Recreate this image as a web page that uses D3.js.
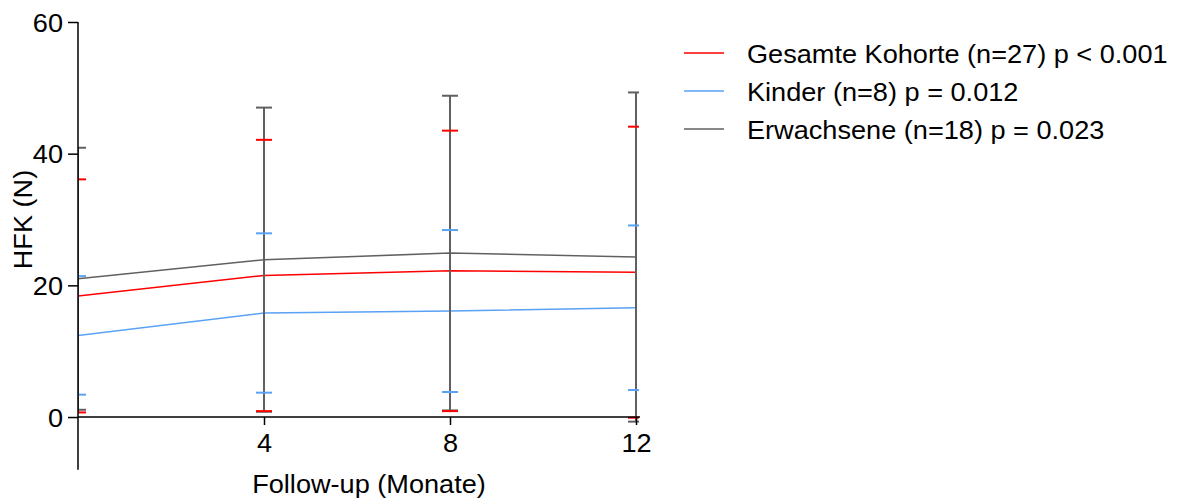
<!DOCTYPE html>
<html><head><meta charset="utf-8">
<script src="https://cdn.jsdelivr.net/npm/d3@7"></script>
<style>body{margin:0;background:#fff}svg{display:block}text{font-family:"Liberation Sans",Arial,sans-serif;fill:#000}</style>
</head><body>
<svg id="c" width="1177" height="501"></svg>
<script>
const months = [0, 4, 8, 12];
const xTicks = [4, 8, 12];
const yTicks = [0, 20, 40, 60];
const seriesNames = ["Gesamte Kohorte (n=27) p < 0.001", "Kinder (n=8) p = 0.012", "Erwachsene (n=18) p = 0.023"];
const seriesColors = ["#ff0000", "#5aa2f5", "#606060"];
const meanGesamt = [18.4, 21.5, 22.2, 22.0];
const sdGesamt = [17.7, 20.6, 21.3, 22.1];
const meanKinder = [12.4, 15.8, 16.1, 16.6];
const sdKinder = [9.0, 12.1, 12.3, 12.5];
const meanErw = [21.0, 23.9, 24.9, 24.3];
const sdErw = [19.9, 23.1, 23.9, 25.0];

const series = [
  {name: seriesNames[0], color: seriesColors[0], mean: meanGesamt, sd: sdGesamt},
  {name: seriesNames[1], color: seriesColors[1], mean: meanKinder, sd: sdKinder},
  {name: seriesNames[2], color: seriesColors[2], mean: meanErw, sd: sdErw}
];

const FS = "25px", SX = 1.085;
const svg = d3.select("#c");
const x = d3.scaleLinear().domain([0, 12]).range([78, 636]);
const y = d3.scaleLinear().domain([-8, 60]).range([469.7, 22]);

svg.append("defs").append("clipPath").attr("id", "clip")
  .append("rect").attr("x", 78).attr("y", 0).attr("width", 639 - 78).attr("height", 501);

const plot = svg.append("g").attr("clip-path", "url(#clip)");

const line = d3.line().x((d, i) => x(months[i])).y(d => y(d));
series.forEach(s => {
  plot.append("path").datum(s.mean).attr("d", line)
    .attr("fill", "none").attr("stroke", s.color).attr("stroke-width", 1.5);
});

series.forEach(s => {
  plot.selectAll(null).data(months).enter().append("line")
    .attr("x1", d => x(d)).attr("x2", d => x(d))
    .attr("y1", (d, i) => y(s.mean[i] + s.sd[i]))
    .attr("y2", (d, i) => y(s.mean[i] - s.sd[i]))
    .attr("stroke", s.color).attr("stroke-width", 2);
});
const capHalf = 8;
[2, 0, 1].forEach(k => {
  const s = series[k];
  [1, -1].forEach(sign => {
    plot.selectAll(null).data(months).enter().append("line")
      .attr("x1", d => x(d) - capHalf).attr("x2", d => x(d) + capHalf)
      .attr("y1", (d, i) => y(s.mean[i] + sign * s.sd[i]))
      .attr("y2", (d, i) => y(s.mean[i] + sign * s.sd[i]))
      .attr("stroke", s.color).attr("stroke-width", 2);
  });
});

// axes
const yAxis = d3.axisLeft(y).tickValues(yTicks).tickSize(10).tickPadding(5).tickFormat(d3.format("d"));
const gy = svg.append("g").attr("transform", `translate(${x(0)},0)`).call(yAxis);
gy.select(".domain").remove();
gy.append("line").attr("x1", 0).attr("x2", 0).attr("y1", y(60)).attr("y2", y(-8)).attr("stroke", "#000").attr("stroke-width", 1.5);
gy.selectAll(".tick line").attr("stroke", "#000").attr("stroke-width", 1.5);
gy.selectAll(".tick text").style("font-size", FS).attr("fill", "#000").attr("dy", "0.36em")
  .attr("x", -15 / SX).attr("transform", `scale(${SX},1)`);

const xAxis = d3.axisBottom(x).tickValues(xTicks).tickSize(8).tickPadding(9).tickFormat(d3.format("d"));
const gx = svg.append("g").attr("transform", `translate(0,${y(0)})`).call(xAxis);
gx.select(".domain").remove();
gx.append("line").attr("x1", x(0)).attr("x2", 640).attr("y1", 0).attr("y2", 0).attr("stroke", "#000").attr("stroke-width", 1.5);
gx.selectAll(".tick line").attr("stroke", "#000").attr("stroke-width", 1.5);
gx.selectAll(".tick text").style("font-size", FS).attr("fill", "#000").attr("transform", `scale(${SX},1)`);

// titles
svg.append("text").attr("transform", `translate(32,${(y(0)+y(60))/2}) rotate(-90) scale(${SX},1)`)
  .attr("text-anchor", "middle").style("font-size", FS).text("HFK (N)");
svg.append("text").attr("transform", `translate(369,492.5) scale(${SX},1)`).attr("text-anchor", "middle")
  .style("font-size", FS).text("Follow-up (Monate)");

// legend
const lg = svg.append("g");
series.forEach((s, i) => {
  const ly = 53 + i * 38;
  lg.append("line").attr("x1", 684).attr("x2", 724).attr("y1", ly).attr("y2", ly)
    .attr("stroke", s.color).attr("stroke-width", 1.5);
  lg.append("text").attr("transform", `translate(747,${ly + 9.7}) scale(${SX},1)`).style("font-size", FS).text(s.name);
});
</script>
</body></html>
